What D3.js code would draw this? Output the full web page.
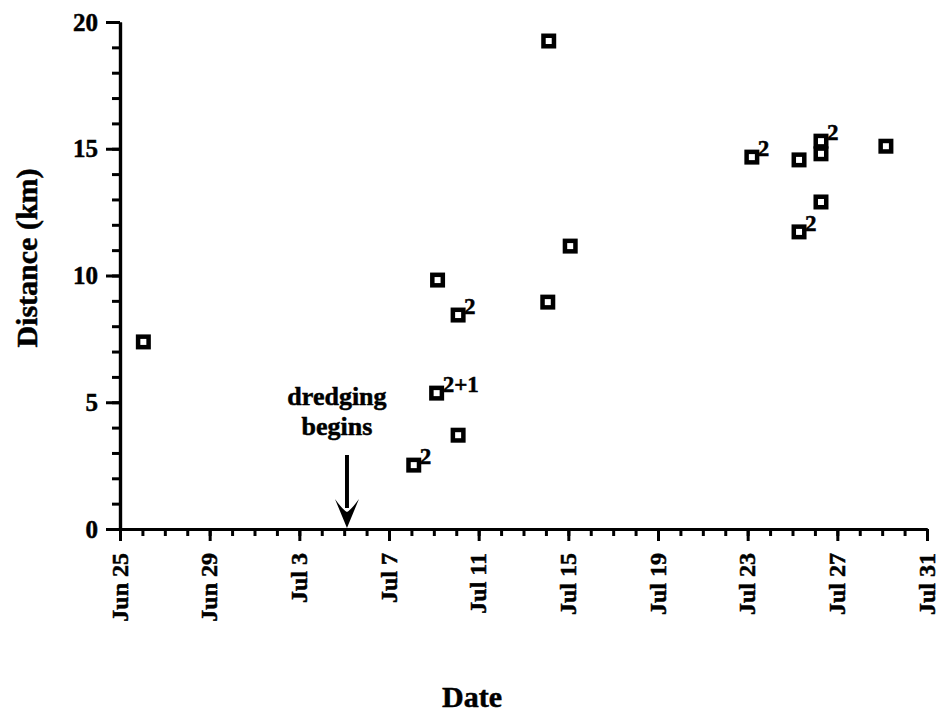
<!DOCTYPE html>
<html>
<head>
<meta charset="utf-8">
<script src="https://cdn.jsdelivr.net/npm/d3@7/dist/d3.min.js"></script>
<style>
  html, body { margin: 0; padding: 0; background: #fff; }
  svg { display: block; }
  text { font-family: "Liberation Serif", "Times New Roman", serif; font-weight: bold; fill: #000; stroke: #000; stroke-width: 0.5px; }
</style>
</head>
<body>
<svg id="chart" width="939" height="715"></svg>
<script>
// Observation times of each fix and its distance (km)
const obsTimes = [
  "1999-06-26T01:00",
  "1999-07-08T02:30",
  "1999-07-09T03:00",
  "1999-07-09T04:00",
  "1999-07-10T02:00",
  "1999-07-10T02:00",
  "1999-07-14T02:00",
  "1999-07-14T03:00",
  "1999-07-15T02:00",
  "1999-07-23T04:30",
  "1999-07-25T07:00",
  "1999-07-25T07:00",
  "1999-07-26T06:30",
  "1999-07-26T06:30",
  "1999-07-26T06:30",
  "1999-07-29T04:00"
];
const distKm = [7.38, 2.52, 5.36, 9.82, 8.44, 3.70, 8.95, 19.25, 11.16, 14.67, 14.56, 11.72, 15.30, 14.80, 12.90, 15.10];
// Count annotations placed beside overlapping fixes
const countNotes = ["", "2", "2+1", "", "2", "", "", "", "", "2", "", "2", "2", "", "", ""];

const xTickLabels = ["Jun 25", "Jun 29", "Jul 3", "Jul 7", "Jul 11", "Jul 15", "Jul 19", "Jul 23", "Jul 27", "Jul 31"];
const yTickValues = [0, 5, 10, 15, 20];
const dredgeStart = "1999-07-05T03:00";
const dredgeLabel = ["dredging", "begins"];

const parseTime = d3.timeParse("%Y-%m-%dT%H:%M");
const parseTick = d3.timeParse("%Y %b %d");
const tickDates = xTickLabels.map(s => parseTick("1999 " + s));
const fmtTick = d3.timeFormat("%b %-d");

const svg = d3.select("#chart");
const x = d3.scaleTime()
  .domain([tickDates[0], tickDates[tickDates.length - 1]])
  .range([120, 927]);
const y = d3.scaleLinear().domain([0, 20]).range([529, 22]);

// Minor ticks: every day / every km
const xMinor = svg.append("g").attr("transform", `translate(0,${y(0)})`)
  .call(d3.axisBottom(x).ticks(d3.timeDay.every(1)).tickSize(7).tickSizeOuter(0).tickFormat(""));
const yMinor = svg.append("g").attr("transform", `translate(${x.range()[0]},0)`)
  .call(d3.axisLeft(y).tickValues(d3.range(0, 21, 1)).tickSize(8).tickSizeOuter(0).tickFormat(""));

// Major ticks with labels
const xAxis = svg.append("g").attr("transform", `translate(0,${y(0)})`)
  .call(d3.axisBottom(x).tickValues(tickDates).tickSize(12).tickSizeOuter(0).tickPadding(12).tickFormat(fmtTick));
xAxis.selectAll("text")
  .attr("transform", "rotate(-90)")
  .attr("text-anchor", "end")
  .attr("x", -24)
  .attr("y", 0)
  .attr("dy", "0.3em")
  .style("font-size", "24px");

const yAxis = svg.append("g").attr("transform", `translate(${x.range()[0]},0)`)
  .call(d3.axisLeft(y).tickValues(yTickValues).tickSize(14).tickSizeOuter(0).tickPadding(8));
yAxis.selectAll("text").style("font-size", "25px");

[xMinor, yMinor, xAxis, yAxis].forEach(g => {
  g.selectAll("path.domain").attr("stroke", "#000").attr("stroke-width", 3.2);
  g.selectAll(".tick line").attr("stroke", "#000").attr("stroke-width", 3);
});

// Axis titles
svg.append("text")
  .attr("x", 472).attr("y", 707)
  .attr("text-anchor", "middle")
  .style("font-size", "30px")
  .text("Date");
svg.append("text")
  .attr("transform", `translate(37,258) rotate(-90)`)
  .attr("text-anchor", "middle")
  .style("font-size", "30px")
  .text("Distance (km)");

// Dredging arrow
const ax = x(parseTime(dredgeStart));
const aTop = y(2.92), aTip = y(0) - 1;
svg.append("line")
  .attr("x1", ax).attr("x2", ax)
  .attr("y1", aTop).attr("y2", aTip - 20)
  .attr("stroke", "#000").attr("stroke-width", 4);
svg.append("path")
  .attr("d", `M${ax},${aTip} L${ax - 12},${aTip - 29} Q${ax - 4},${aTip - 18} ${ax},${aTip - 16} Q${ax + 4},${aTip - 18} ${ax + 12},${aTip - 29} Z`)
  .attr("fill", "#000");
svg.append("text")
  .attr("text-anchor", "middle")
  .style("font-size", "26px")
  .selectAll("tspan")
  .data(dredgeLabel)
  .join("tspan")
  .attr("x", ax - 10)
  .attr("y", (d, i) => 405 + i * 30)
  .text(d => d);

// Fixes
const pts = obsTimes.map((t, i) => ({ t: parseTime(t), v: distKm[i], note: countNotes[i] }));
const s = 10.5;
svg.append("g").selectAll("rect")
  .data(pts)
  .join("rect")
  .attr("x", d => x(d.t) - s / 2)
  .attr("y", d => y(d.v) - s / 2)
  .attr("width", s).attr("height", s)
  .attr("fill", "#fff")
  .attr("stroke", "#000")
  .attr("stroke-width", 4.5);

svg.append("g").selectAll("text")
  .data(pts.filter(d => d.note))
  .join("text")
  .attr("x", d => x(d.t) + 6)
  .attr("y", d => y(d.v) - 1)
  .style("font-size", "23px")
  .text(d => d.note);
</script>
</body>
</html>
